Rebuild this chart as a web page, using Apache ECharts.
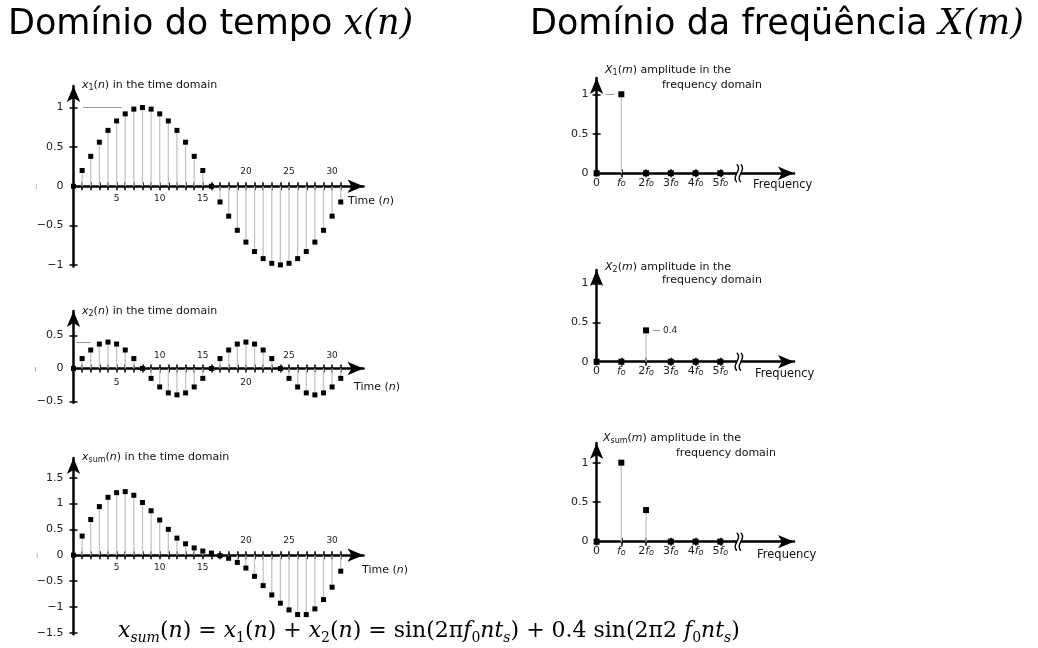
<!DOCTYPE html>
<html><head><meta charset="utf-8">
<script src="https://cdn.jsdelivr.net/npm/echarts@6/dist/echarts.min.js"></script>
<style>html,body{margin:0;padding:0;background:#fff}#c{width:1038px;height:648px}</style>
</head><body><div id="c"></div>
<script>
// ---------------- DATA ----------------
const timeN = [0,1,2,3,4,5,6,7,8,9,10,11,12,13,14,15,16,17,18,19,20,21,22,23,24,25,26,27,28,29,30,31];
const x1Values = [0,0.2,0.38,0.56,0.71,0.83,0.92,0.98,1,0.98,0.92,0.83,0.71,0.56,0.38,0.2,0,-0.2,-0.38,-0.56,-0.71,-0.83,-0.92,-0.98,-1,-0.98,-0.92,-0.83,-0.71,-0.56,-0.38,-0.2];
const x2Values = [0,0.15,0.28,0.37,0.4,0.37,0.28,0.15,0,-0.15,-0.28,-0.37,-0.4,-0.37,-0.28,-0.15,0,0.15,0.28,0.37,0.4,0.37,0.28,0.15,0,-0.15,-0.28,-0.37,-0.4,-0.37,-0.28,-0.15];
const xSumValues = [0,0.37,0.69,0.94,1.12,1.21,1.23,1.16,1.02,0.86,0.68,0.5,0.33,0.22,0.14,0.08,0.04,-0.01,-0.06,-0.14,-0.25,-0.41,-0.59,-0.77,-0.93,-1.06,-1.15,-1.15,-1.04,-0.86,-0.62,-0.31];
const timeTickValues = [1,2,3,4,5,6,7,8,9,10,11,12,13,14,15,16,17,18,19,20,21,22,23,24,25,26,27,28,29,30,31];
const x1LabelsBelow = [5,10,15], x1LabelsAbove = [20,25,30];
const x2LabelsBelow = [5,20], x2LabelsAbove = [10,15,25,30];
const xSumLabelsBelow = [5,10,15], xSumLabelsAbove = [20,25,30];
const x1YLabels = [-1,-0.5,0,0.5,1];
const x2YLabels = [-0.5,0,0.5];
const xSumYLabels = [-1.5,-1,-0.5,0,0.5,1,1.5];

const freqBins = [0,1,2,3,4,5];
const freqLabels = ['0','f0','2f0','3f0','4f0','5f0'];
const freqTickValues = [1,2,3,4,5];
const X1Amp = [0,1,0,0,0,0];
const X2Amp = [0,0,0.4,0,0,0];
const XSumAmp = [0,1,0.4,0,0,0];
const freqYLabels = [0,0.5,1];
const freqBreakAt = 5.71;

// reference guide lines [xStart, xEnd, yValue]
const x1Guide = [1.1, 5.6, 1];
const x2Guide = [0.3, 2.0, 0.4];
const X1Guide = [0.36, 0.72, 1];
const X2Guide = [2.28, 2.56, 0.4];

// ---------------- STYLE ----------------
const SANS = 'DejaVu Sans';
const SERIF = 'DejaVu Serif';
const lineBlack = {color:'#000', width:2.5};
const tickStyle = {color:'#000', width:1.5};
const fRich = {
  i:{fontStyle:'italic', fontFamily:SANS, fontSize:11, color:'#222'},
  s:{fontStyle:'italic', fontFamily:SANS, fontSize:8, color:'#222', verticalAlign:'bottom', lineHeight:10}
};
function yLab(v){ return (v < 0 ? '\u2212' : '') + Math.abs(v); }
function freqFmt(v){ const l = freqLabels[freqBins.indexOf(v)] || ''; return l.replace('f0','{i|f}{s|o}'); }

const grid=[], xAxis=[], yAxis=[], series=[];

function stem(params, api){
  const a = api.coord([api.value(0), 0]);
  const b = api.coord([api.value(0), api.value(1)]);
  return {type:'line', shape:{x1:a[0],y1:a[1],x2:b[0],y2:b[1]}, style:{stroke:'#c4c4c4', lineWidth:1.3}};
}
function breakMark(params, api){
  const p = api.coord([api.value(0), api.value(1)]);
  const x = p[0], y = p[1];
  const curve = dx => ({type:'bezierCurve', shape:{x1:x+dx, y1:y-9, cpx1:x+dx+6, cpy1:y-3, cpx2:x+dx-6, cpy2:y+3, x2:x+dx, y2:y+9}, style:{stroke:'#000', lineWidth:1.4, fill:null}});
  return {type:'group', children:[
    {type:'rect', shape:{x:x-1, y:y-3, width:4, height:6}, style:{fill:'#fff'}},
    curve(-1), curve(3)
  ]};
}

function addPanel(c){
  const g = grid.length;
  grid.push({left:c.left, top:c.top, width:c.width, height:c.height, containLabel:false, outerBoundsMode:'none'});
  // distance (px) from grid bottom up to the zero line: labels of an on-zero axis are laid out from the grid edge
  const dz = c.height * (-c.yMin) / (c.yMax - c.yMin);
  const yi = yAxis.length;
  const yBase = {gridIndex:g, type:'value', min:c.yMin, max:c.yMax, position:'left', splitLine:{show:false}};
  const yTicks = c.yLabels.filter(v => v !== 0);
  yAxis.push(Object.assign({}, yBase, {
    axisLine:{show:true, onZero:false, symbol:['none','arrow'], symbolSize:[10,16], lineStyle:lineBlack},
    axisTick:{show:true, customValues:yTicks, length:4, lineStyle:tickStyle},
    axisLabel:{show:true, customValues:c.yLabels, formatter:yLab, margin:c.yMargin, fontFamily:SANS, fontSize:11, color:'#222'}
  }));
  yAxis.push(Object.assign({}, yBase, {
    axisLine:{show:false, onZero:false},
    axisTick:{show:true, inside:true, customValues:yTicks, length:4, lineStyle:tickStyle},
    axisLabel:{show:false}
  }));
  const xi = xAxis.length;
  const xBase = {gridIndex:g, type:'value', min:0, max:c.xMax, position:'bottom', splitLine:{show:false}};
  const lab = {fontFamily:SANS, fontSize:c.xFont, color:'#222'};
  xAxis.push(Object.assign({}, xBase, {
    axisLine:{show:true, onZero:true, onZeroAxisIndex:yi, symbol:['none','arrow'], symbolSize:[10,16], lineStyle:lineBlack},
    axisTick:{show:true, customValues:c.xTicks, length:4, lineStyle:tickStyle},
    axisLabel:Object.assign({show:true, customValues:c.xBelow, margin:c.mBelow - dz, formatter:c.xFmt, rich:fRich}, lab)
  }));
  xAxis.push(Object.assign({}, xBase, {
    axisLine:{show:true, onZero:true, onZeroAxisIndex:yi, lineStyle:{color:'rgba(0,0,0,0)', width:1}},
    axisTick:{show:true, inside:true, customValues:c.xTicks, length:4, lineStyle:tickStyle},
    axisLabel:Object.assign({show:c.xAbove.length > 0, inside:true, customValues:c.xAbove.length ? c.xAbove : [0], margin:c.mAbove + dz}, lab)
  }));
  const pts = c.xs.map((x,i) => [x, c.ys[i]]);
  series.push({type:'custom', xAxisIndex:xi, yAxisIndex:yi, data:pts, renderItem:stem, z:3, silent:true, clip:false});
  const sc = {type:'scatter', xAxisIndex:xi, yAxisIndex:yi, data:pts, symbol:'rect', symbolSize:c.mark, itemStyle:{color:'#000', opacity:1}, z:5, silent:true};
  if (c.guide){
    sc.markLine = {silent:true, symbol:['none','none'], animation:false,
      lineStyle:{color:'#9a9a9a', width:1, type:'solid'},
      label:{show:!!c.guideLabel, position:'end', formatter:c.guideLabel || '', fontFamily:SANS, fontSize:9, color:'#222', distance:3},
      data:[[{coord:[c.guide[0], c.guide[2]]},{coord:[c.guide[1], c.guide[2]]}]]};
  }
  series.push(sc);
  if (c.breakAt != null){
    series.push({type:'custom', xAxisIndex:xi, yAxisIndex:yi, data:[[c.breakAt, 0]], renderItem:breakMark, z:6, silent:true, clip:false});
  }
}

// time-domain panels
const tLeft = 73.5, tWidth = 290, tMax = 33.64;
addPanel({left:tLeft, width:tWidth, xMax:tMax, top:86, height:180.5, yMin:-1.02, yMax:1.274,
  xs:timeN, ys:x1Values, xTicks:timeTickValues, xBelow:x1LabelsBelow, xAbove:x1LabelsAbove, mBelow:8, mAbove:10,
  yLabels:x1YLabels, yMargin:10, xFont:9, mark:5, guide:x1Guide});
addPanel({left:tLeft, width:tWidth, xMax:tMax, top:311, height:91.8, yMin:-0.52, yMax:0.871,
  xs:timeN, ys:x2Values, xTicks:timeTickValues, xBelow:x2LabelsBelow, xAbove:x2LabelsAbove, mBelow:10, mAbove:8,
  yLabels:x2YLabels, yMargin:10, xFont:9, mark:5, guide:x2Guide});
addPanel({left:tLeft, width:tWidth, xMax:tMax, top:458, height:176.2, yMin:-1.53, yMax:1.881,
  xs:timeN, ys:xSumValues, xTicks:timeTickValues, xBelow:xSumLabelsBelow, xAbove:xSumLabelsAbove, mBelow:8, mAbove:10,
  yLabels:xSumYLabels, yMargin:10, xFont:9, mark:5});
// frequency-domain panels
const fLeft = 596.6, fWidth = 197.4, fMax = 7.98;
addPanel({left:fLeft, width:fWidth, xMax:fMax, top:78, height:97.6, yMin:-0.03, yMax:1.206,
  xs:freqBins, ys:X1Amp, xTicks:freqTickValues, xBelow:freqBins, xAbove:[], mBelow:4, mAbove:8, xFmt:freqFmt,
  yLabels:freqYLabels, yMargin:8, xFont:11, mark:6, guide:X1Guide, breakAt:freqBreakAt});
addPanel({left:fLeft, width:fWidth, xMax:fMax, top:270, height:94.1, yMin:-0.03, yMax:1.17,
  xs:freqBins, ys:X2Amp, xTicks:freqTickValues, xBelow:freqBins, xAbove:[], mBelow:4, mAbove:8, xFmt:freqFmt,
  yLabels:freqYLabels, yMargin:8, xFont:11, mark:6, guide:X2Guide, guideLabel:'0.4', breakAt:freqBreakAt});
addPanel({left:fLeft, width:fWidth, xMax:fMax, top:443, height:101, yMin:-0.03, yMax:1.249,
  xs:freqBins, ys:XSumAmp, xTicks:freqTickValues, xBelow:freqBins, xAbove:[], mBelow:4, mAbove:8, xFmt:freqFmt,
  yLabels:freqYLabels, yMargin:8, xFont:11, mark:6, breakAt:freqBreakAt});

// ---------------- TEXT ----------------
const smallRich = {
  i:{fontStyle:'italic', fontFamily:SANS, fontSize:11, color:'#111'},
  s:{fontFamily:SANS, fontSize:8, color:'#111', verticalAlign:'bottom', lineHeight:10}
};
function txt(left, top, text, ts){
  return {left:left, top:top, text:text, padding:0, itemGap:0,
    textStyle:Object.assign({fontFamily:SANS, fontSize:11, fontWeight:'normal', color:'#111', lineHeight:14, rich:smallRich}, ts || {})};
}
const formulaRich = {
  i:{fontStyle:'italic', fontFamily:SERIF, fontSize:22, color:'#000'},
  s:{fontFamily:SERIF, fontSize:14, color:'#000', verticalAlign:'bottom', lineHeight:20},
  si:{fontStyle:'italic', fontFamily:SERIF, fontSize:14, color:'#000', verticalAlign:'bottom', lineHeight:20}
};
const titles = [
  txt(8, 5, '{a|Dom\u00ednio do tempo }{b|x(n)}', {lineHeight:40, rich:{
    a:{fontFamily:SANS, fontSize:35, color:'#000'}, b:{fontFamily:SERIF, fontStyle:'italic', fontSize:35, color:'#000'}}}),
  txt(530, 5, '{a|Dom\u00ednio da freq\u00fc\u00eancia }{b|X(m)}', {lineHeight:40, rich:{
    a:{fontFamily:SANS, fontSize:35, color:'#000'}, b:{fontFamily:SERIF, fontStyle:'italic', fontSize:35, color:'#000'}}}),
  txt(82, 78, '{i|x}{s|1}({i|n}) in the time domain'),
  txt(82, 304, '{i|x}{s|2}({i|n}) in the time domain'),
  txt(82, 450, '{i|x}{s|sum}({i|n}) in the time domain'),
  txt(348, 194, 'Time ({i|n})'),
  txt(354, 380, 'Time ({i|n})'),
  txt(362, 563, 'Time ({i|n})'),
  txt(605, 63, '{i|X}{s|1}({i|m}) amplitude in the'),
  txt(662, 78, 'frequency domain'),
  txt(605, 260, '{i|X}{s|2}({i|m}) amplitude in the'),
  txt(662, 273, 'frequency domain'),
  txt(603, 431, '{i|X}{s|sum}({i|m}) amplitude in the'),
  txt(676, 446, 'frequency domain'),
  txt(753, 178, 'Frequency', {fontSize:11.5}),
  txt(755, 367, 'Frequency', {fontSize:11.5}),
  txt(757, 548, 'Frequency', {fontSize:11.5}),
  txt(35, 180, 'ı', {color:'#aaa', fontSize:9}),
  txt(34, 363, 'ı', {color:'#aaa', fontSize:9}),
  txt(36, 549, 'ı', {color:'#aaa', fontSize:9}),
  txt(118, 617, '{i|x}{si|sum}({i|n}) = {i|x}{s|1}({i|n}) + {i|x}{s|2}({i|n}) = sin(2\u03c0{i|f}{s|0}{i|nt}{si|s}) + 0.4 sin(2\u03c02 {i|f}{s|0}{i|nt}{si|s})',
    {fontFamily:SERIF, fontSize:22, color:'#000', lineHeight:28, rich:formulaRich})
];

const chart = echarts.init(document.getElementById('c'), null, {renderer:'canvas'});
chart.setOption({
  animation:false,
  backgroundColor:'#fff',
  title:titles,
  grid:grid, xAxis:xAxis, yAxis:yAxis, series:series
});
</script></body></html>
